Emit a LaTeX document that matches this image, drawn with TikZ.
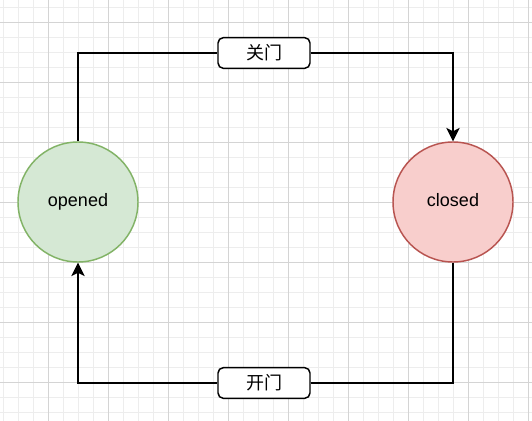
\documentclass[tikz,border=0pt]{standalone}
\usepackage{fontspec}
\setmainfont{Liberation Sans}
\newfontfamily\cjk{Noto Sans CJK SC}
\usetikzlibrary{arrows.meta}
\definecolor{openfill}{HTML}{D5E8D4}
\definecolor{openline}{HTML}{82B366}
\definecolor{shutfill}{HTML}{F8CECC}
\definecolor{shutline}{HTML}{B85450}

\begin{document}
\begin{tikzpicture}[x=0.75pt,y=-0.75pt,
      every node/.style={font=\fontsize{13.5}{16}\selectfont},
      state/.style={circle,line width=1.1pt,minimum size=90pt,inner sep=0pt,
        text height=0.73em,text depth=0em},
      door/.style={rectangle,rounded corners=4pt,draw=black,fill=white,line width=1.1pt,
        minimum width=69pt,minimum height=23pt,inner sep=0pt,font=\cjk\fontsize{13.5}{16}\selectfont},
      flow/.style={line width=1.1pt,-{Stealth[length=10pt,width=10pt,inset=2.5pt]}},
      minor/.style={draw=black!7,line width=0.75pt},
      major/.style={draw=black!17,line width=0.75pt}]

      \fill[white] (0,0) rectangle (532,421);
      \useasboundingbox (0,0) rectangle (532,421);

      % grid
      \foreach \gx in {0,...,35}
        \draw[minor] (3+15*\gx,0) -- ++(0,421);
      \foreach \gy in {0,...,28}
        \draw[minor] (0,7+15*\gy) -- ++(532,0);
      \foreach \gx in {0,...,8}
        \draw[major] (48+60*\gx,0) -- ++(0,421);
      \foreach \gy in {0,...,6}
        \draw[major] (0,22+60*\gy) -- ++(532,0);

      % states
      \node[state,draw=openline,fill=openfill] (opened) at (78,202) {opened};
      \node[state,draw=shutline,fill=shutfill] (closed) at (453,202) {closed};

      % transitions
      \node[door] (shut) at (264,53) {关门};
      \node[door] (open) at (264,383) {开门};

      \draw[flow] (opened.north) |- (shut) -| (closed.north);
      \draw[flow] (closed.south) |- (open) -| (opened.south);
    \end{tikzpicture}
\end{document}
